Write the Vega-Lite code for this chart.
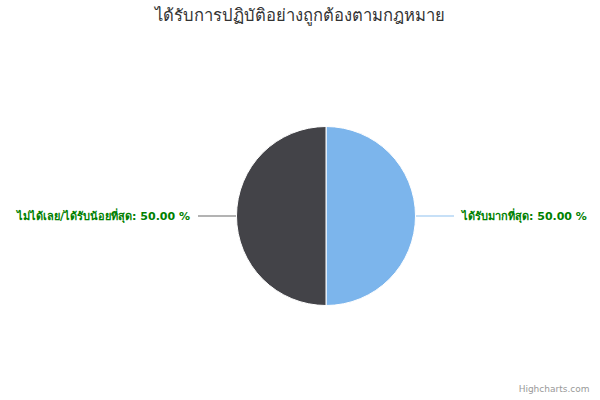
{
  "$schema": "https://vega.github.io/schema/vega-lite/v6.json",
  "width": 548,
  "height": 366,
  "autosize": {"type": "none"},
  "padding": {"left": 52, "top": 33, "right": 0, "bottom": 1},
  "background": "white",
  "config": {"view": {"stroke": null}},
  "title": {
    "text": "ได้รับการปฏิบัติอย่างถูกต้องตามกฎหมาย",
    "fontSize": 16.6,
    "fontWeight": "normal",
    "color": "#333333",
    "font": "DejaVu Sans, sans-serif",
    "anchor": "middle",
    "dx": -26,
    "offset": 8
  },
  "data": {
    "values": [
      {"category": "ได้รับมากที่สุด", "value": 50, "order": 1, "label": "ได้รับมากที่สุด: 50.00 %"},
      {"category": "ไม่ได้เลย/ได้รับน้อยที่สุด", "value": 50, "order": 2, "label": "ไม่ได้เลย/ได้รับน้อยที่สุด: 50.00 %"}
    ]
  },
  "layer": [
    {
      "mark": {"type": "arc", "radius": 89.5, "stroke": "#ffffff", "strokeWidth": 1},
      "encoding": {
        "theta": {"field": "value", "type": "quantitative", "stack": true},
        "order": {"field": "order", "type": "quantitative"},
        "color": {
          "field": "category", "type": "nominal",
          "scale": {"domain": ["ได้รับมากที่สุด", "ไม่ได้เลย/ได้รับน้อยที่สุด"], "range": ["#7cb5ec", "#434348"]},
          "legend": null
        }
      }
    },
    {
      "mark": {"type": "arc", "radius": 128, "radius2": 90, "padAngle": 3, "fill": null, "fillOpacity": 0, "strokeWidth": 1.5},
      "encoding": {
        "theta": {"field": "value", "type": "quantitative", "stack": true},
        "order": {"field": "order", "type": "quantitative"},
        "stroke": {
          "field": "category", "type": "nominal",
          "scale": {"domain": ["ได้รับมากที่สุด", "ไม่ได้เลย/ได้รับน้อยที่สุด"], "range": ["#b5d6f5", "#9a9a9a"]},
          "legend": null
        }
      }
    },
    {
      "mark": {"type": "text", "radius": 136, "align": "left", "baseline": "middle", "dy": 1, "fontSize": 11, "fontWeight": "bold", "color": "#008000", "font": "DejaVu Sans, sans-serif"},
      "encoding": {
        "theta": {"field": "value", "type": "quantitative", "stack": true},
        "order": {"field": "order", "type": "quantitative"},
        "text": {"condition": {"test": "datum.order === 1", "field": "label"}, "value": ""}
      }
    },
    {
      "mark": {"type": "text", "radius": 136, "align": "right", "baseline": "middle", "dy": 1, "fontSize": 11, "fontWeight": "bold", "color": "#008000", "font": "DejaVu Sans, sans-serif"},
      "encoding": {
        "theta": {"field": "value", "type": "quantitative", "stack": true},
        "order": {"field": "order", "type": "quantitative"},
        "text": {"condition": {"test": "datum.order === 2", "field": "label"}, "value": ""}
      }
    },
    {
      "mark": {"type": "rule", "opacity": 0},
      "encoding": {
        "x": {
          "field": "value", "type": "quantitative",
          "axis": {
            "orient": "bottom", "labels": false, "ticks": false, "domain": false, "grid": false,
            "title": "Highcharts.com", "titleFontSize": 9, "titleFontWeight": "normal", "titleColor": "#999999",
            "titleFont": "DejaVu Sans, sans-serif",
            "titleAnchor": "end", "titleAlign": "right", "titleX": 537, "titlePadding": -15
          }
        }
      }
    }
  ]
}
